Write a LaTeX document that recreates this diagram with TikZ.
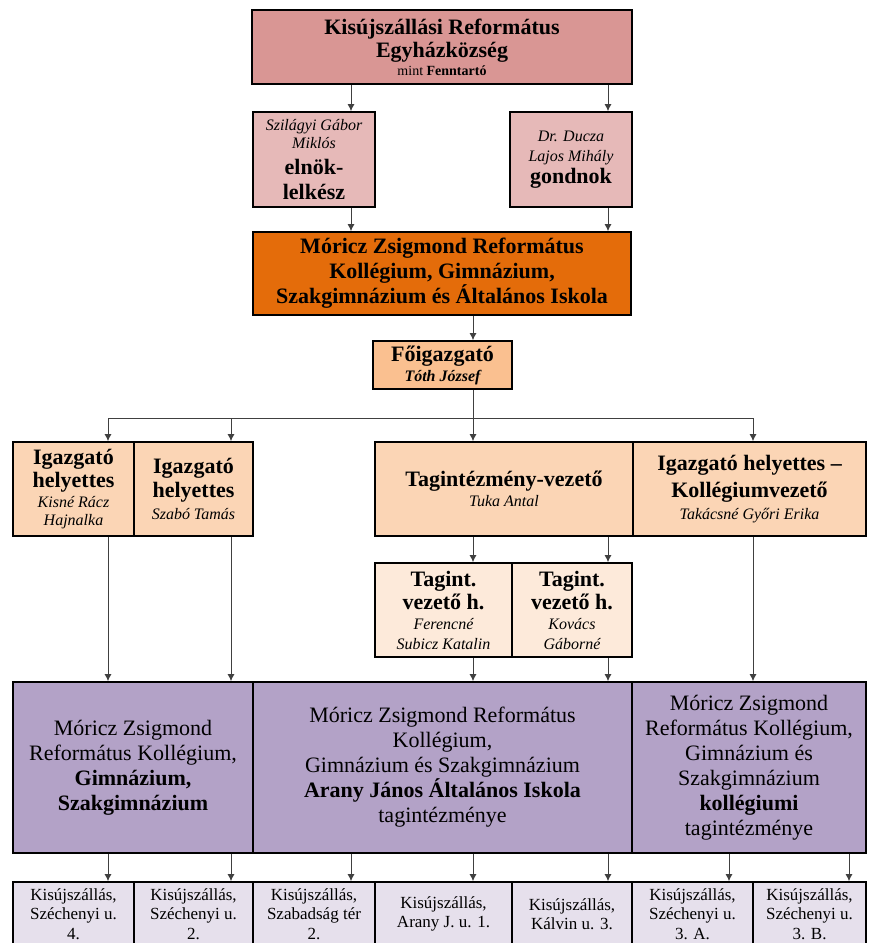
\documentclass[tikz,border=0pt]{standalone}
\usepackage{fontspec}
\setmainfont{Liberation Serif}
\usetikzlibrary{arrows.meta}

\definecolor{rosa}{RGB}{217,150,148}
\definecolor{rosavil}{RGB}{230,185,184}
\definecolor{narancs}{RGB}{228,108,10}
\definecolor{barack}{RGB}{250,192,144}
\definecolor{barackvil}{RGB}{251,213,181}
\definecolor{krem}{RGB}{253,234,218}
\definecolor{lila}{RGB}{179,162,199}
\definecolor{lilavil}{RGB}{230,224,236}

\newcommand{\nev}{\fontsize{16}{18}\selectfont\itshape\mdseries}

\begin{document}
\begin{tikzpicture}[x=1pt,y=-1pt,>={Latex[length=7pt,width=7pt]},
	doboz/.style={draw=black, line width=1.8pt, align=center, inner sep=2pt},
	vastag/.style={font=\fontsize{22}{25}\selectfont\bfseries},
	vekony/.style={font=\fontsize{22}{25}\selectfont},
	cim/.style={font=\fontsize{17}{19.5}\selectfont},
	nyil/.style={->, line width=0.8pt, black!75},
	vonal/.style={line width=0.8pt, black!75}]
	\useasboundingbox (0,0) rectangle (868,943);
	\clip (0,0) rectangle (868,943);

	% oszlopok
	\foreach \n/\x in {a/108,b/231,c/351,d/473,e/608,f/729,g/849,k/753}
		\coordinate (x\n) at (\x,0);

	% fenntarto
	\node[doboz, vastag, fill=rosa, minimum width=380pt, minimum height=74pt] (fenntarto) at (442,47)
		{Kisújszállási Református\\[-2pt]Egyházközség\\[-7pt]{\fontsize{14}{16}\selectfont\mdseries mint \bfseries Fenntartó}};
	\node[doboz, vastag, fill=rosavil, minimum width=122pt, minimum height=95pt] (elnok) at (314,159.5)
		{{\nev Szilágyi Gábor}\\[-7pt]{\nev Miklós}\\[1pt]elnök-\\lelkész};
	\node[doboz, vastag, fill=rosavil, minimum width=122pt, minimum height=95pt] (gondnok) at (571,159.5)
		{{\nev Dr. Ducza}\\[-5pt]{\nev Lajos Mihály}\\[-3pt]gondnok};

	% iskola
	\node[doboz, vastag, fill=narancs, minimum width=378pt, minimum height=83pt] (iskola) at (442,273.5)
		{Móricz Zsigmond Református\\Kollégium, Gimnázium,\\Szakgimnázium és Általános Iskola};
	\node[doboz, vastag, fill=barack, minimum width=139pt, minimum height=48pt] (fo) at (442.5,365)
		{Főigazgató\\[-5pt]{\nev\bfseries Tóth József}};

	% helyettesek
	\node[doboz, vastag, fill=barackvil, minimum width=121pt, minimum height=94pt] (ih1) at (73.5,489)
		{Igazgató\\[-2pt]helyettes\\[-5pt]{\nev Kisné Rácz}\\[-7pt]{\nev Hajnalka}};
	\node[doboz, vastag, fill=barackvil, minimum width=119pt, minimum height=94pt] (ih2) at (193.5,489)
		{Igazgató\\[-1pt]helyettes\\[-3pt]{\nev Szabó Tamás}};
	\node[doboz, vastag, fill=barackvil, minimum width=258pt, minimum height=94pt] (tv) at (504,489)
		{Tagintézmény-vezető\\[-5pt]{\nev Tuka Antal}};
	\node[doboz, vastag, fill=barackvil, minimum width=233pt, minimum height=94pt] (kv) at (749.5,489)
		{Igazgató helyettes --\\[2pt]Kollégiumvezető\\[-3pt]{\nev Takácsné Győri Erika}};
	\node[doboz, vastag, fill=krem, minimum width=137pt, minimum height=94pt] (th1) at (443.5,610)
		{Tagint.\\[-2pt]vezető h.\\[-5pt]{\nev Ferencné}\\[-5pt]{\nev Subicz Katalin}};
	\node[doboz, vastag, fill=krem, minimum width=120pt, minimum height=94pt] (th2) at (572,610)
		{Tagint.\\[-2pt]vezető h.\\[-5pt]{\nev Kovács}\\[-5pt]{\nev Gáborné}};

	% intezmenyek
	\node[doboz, vekony, fill=lila, minimum width=240pt, minimum height=171pt] (p1) at (133,767.5)
		{Móricz Zsigmond\\Református Kollégium,\\\textbf{Gimnázium,}\\\textbf{Szakgimnázium}};
	\node[doboz, vekony, fill=lila, minimum width=379pt, minimum height=171pt] (p2) at (442.5,767.5)
		{Móricz Zsigmond Református\\Kollégium,\\Gimnázium és Szakgimnázium\\\textbf{Arany János Általános Iskola}\\tagintézménye};
	\node[doboz, vekony, fill=lila, minimum width=234pt, minimum height=171pt] (p3) at (749,767.5)
		{Móricz Zsigmond\\Református Kollégium,\\Gimnázium és\\Szakgimnázium\\\textbf{kollégiumi}\\tagintézménye};

	% cimek
	\foreach \n/\bal/\jobb/\szoveg in {
		1/13/134/{Kisújszállás,\\Széchenyi u.\\4.},
		2/134/253/{Kisújszállás,\\Széchenyi u.\\2.},
		3/253/375/{Kisújszállás,\\Szabadság tér\\2.},
		4/375/512/{Kisújszállás,\\Arany J. u. 1.},
		5/512/632/{Kisújszállás,\\Kálvin u. 3.},
		6/632/753/{Kisújszállás,\\Széchenyi u.\\3. A.},
		7/753/866/{Kisújszállás,\\Széchenyi u.\\3. B.}}
		\node[doboz, cim, fill=lilavil, minimum width={(\jobb-\bal)*1pt}, minimum height=64pt] (b\n) at ({(\bal+\jobb)/2},914) {\szoveg};

	% nyilak
	\draw[nyil] (fenntarto.south -| xc) -- (elnok.north -| xc);
	\draw[nyil] (fenntarto.south -| xe) -- (gondnok.north -| xe);
	\draw[nyil] (elnok.south -| xc) -- (iskola.north -| xc);
	\draw[nyil] (gondnok.south -| xe) -- (iskola.north -| xe);
	\draw[nyil] (iskola.south -| xd) -- (fo.north -| xd);

	\coordinate (elagazas) at (473,418);
	\draw[vonal] (fo.south -| xd) -- (elagazas);
	\draw[vonal] (elagazas -| xa) -- (elagazas -| xk);
	\foreach \c/\hova in {a/ih1,b/ih2,d/tv,k/kv}
		\draw[nyil] (elagazas -| x\c) -- (\hova.north -| x\c);

	\draw[nyil] (ih1.south -| xa) -- (p1.north -| xa);
	\draw[nyil] (ih2.south -| xb) -- (p1.north -| xb);
	\draw[nyil] (kv.south -| xk) -- (p3.north -| xk);
	\draw[nyil] (tv.south -| xd) -- (th1.north -| xd);
	\draw[nyil] (tv.south -| xe) -- (th2.north -| xe);
	\draw[nyil] (th1.south -| xd) -- (p2.north -| xd);
	\draw[nyil] (th2.south -| xe) -- (p2.north -| xe);

	\foreach \honnan/\hova/\c in {p1/b1/a,p1/b2/b,p2/b3/c,p2/b4/d,p2/b5/e,p3/b6/f,p3/b7/g}
		\draw[nyil] (\honnan.south -| x\c) -- (\hova.north -| x\c);

\end{tikzpicture}
\end{document}
